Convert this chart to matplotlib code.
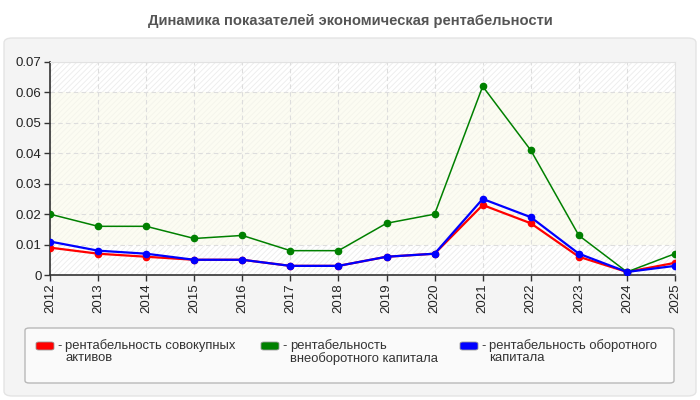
import numpy as np
import matplotlib.pyplot as plt
from matplotlib.patches import FancyBboxPatch, Rectangle

years = [2012, 2013, 2014, 2015, 2016, 2017, 2018, 2019, 2020, 2021, 2022, 2023, 2024, 2025]
total_assets = [0.009, 0.007, 0.006, 0.005, 0.005, 0.003, 0.003, 0.006, 0.007, 0.023, 0.017, 0.006, 0.001, 0.004]
noncurrent = [0.020, 0.016, 0.016, 0.012, 0.013, 0.008, 0.008, 0.017, 0.020, 0.062, 0.041, 0.013, 0.001, 0.007]
current = [0.011, 0.008, 0.007, 0.005, 0.005, 0.003, 0.003, 0.006, 0.007, 0.025, 0.019, 0.007, 0.001, 0.003]

labels = ["рентабельность совокупных\nактивов",
          "рентабельность\nвнеоборотного капитала",
          "рентабельность оборотного\nкапитала"]
colors = ["#ff0000", "#008000", "#0000ff"]
yticks = [0, 0.01, 0.02, 0.03, 0.04, 0.05, 0.06, 0.07]
ytick_labels = ["0", "0.01", "0.02", "0.03", "0.04", "0.05", "0.06", "0.07"]

plt.rcParams['font.family'] = ['Liberation Sans', 'DejaVu Sans']
plt.rcParams['hatch.linewidth'] = 0.6

W, H = 700, 400
fig = plt.figure(figsize=(7, 4), dpi=100)
fig.patch.set_facecolor('white')

# outer panel
panel = FancyBboxPatch((4 / W, 4 / H), 692 / W, 358 / H, boxstyle="round,pad=0,rounding_size=0.012",
                       transform=fig.transFigure, facecolor='#f4f4f4', edgecolor='#e4e4e4', lw=1,
                       zorder=-10)
fig.patches.append(panel)

fig.text(0.5, 1 - 21 / H, "Динамика показателей экономическая рентабельности",
         ha='center', va='center', fontsize=10.6, fontweight='bold', color='#555555')

ax = fig.add_axes([50 / W, 125 / H, 625 / W, 213 / H])
ax.set_facecolor('white')
ax.add_patch(Rectangle((0, 0), 1, 1, transform=ax.transAxes, facecolor='none',
                       hatch='//////', edgecolor='#ececec', lw=0, zorder=0))
ax.axhspan(0.01, 0.06, color='#fafaea', alpha=0.6, lw=0, zorder=0)

ax.plot(years, total_assets, color=colors[0], lw=1.6, marker='o', ms=4.5, zorder=3)
ax.plot(years, noncurrent, color=colors[1], lw=1.1, marker='o', ms=4.5, zorder=3)
ax.plot(years, current, color=colors[2], lw=1.6, marker='o', ms=4.5, zorder=4)

ax.set_xlim(2012, 2025)
ax.set_ylim(0, 0.07)
ax.set_xticks(years)
ax.set_xticklabels([str(y) for y in years], rotation=90, fontsize=9.5, color='#222222')
ax.set_yticks(yticks)
ax.set_yticklabels(ytick_labels, fontsize=9.5, color='#222222')
ax.grid(True, ls=(0, (4, 3)), color='#dddddd', lw=0.8, zorder=1)
ax.tick_params(length=4, width=1, color='#333333', pad=2)
for s in ['top', 'right']:
    ax.spines[s].set_color('#e2e2e2')
for s in ['left', 'bottom']:
    ax.spines[s].set_color('#333333')
    ax.spines[s].set_linewidth(1.2)

# legend box
lbox = FancyBboxPatch((25 / W, (H - 383) / H), 649 / W, 55 / H, boxstyle="round,pad=0,rounding_size=0.006",
                      transform=fig.transFigure, facecolor='#fafafa', edgecolor='#b8b8b8', lw=1)
fig.patches.append(lbox)

sw_x = [36, 261, 460]
for i in range(3):
    sw = FancyBboxPatch((sw_x[i] / W, (H - 350) / H), 18 / W, 8 / H,
                        boxstyle="round,pad=0,rounding_size=0.004", transform=fig.transFigure,
                        facecolor=colors[i], edgecolor='#999999', lw=0.6)
    fig.patches.append(sw)
    fig.text((sw_x[i] + 21) / W, (H - 346) / H, "-", ha='left', va='center', fontsize=9.4,
             color='#333333')
    fig.text((sw_x[i] + 29) / W, (H - 339) / H, labels[i], ha='left', va='top', fontsize=9.4,
             color='#333333', linespacing=1.05)

fig.savefig('out.png', dpi=100)
